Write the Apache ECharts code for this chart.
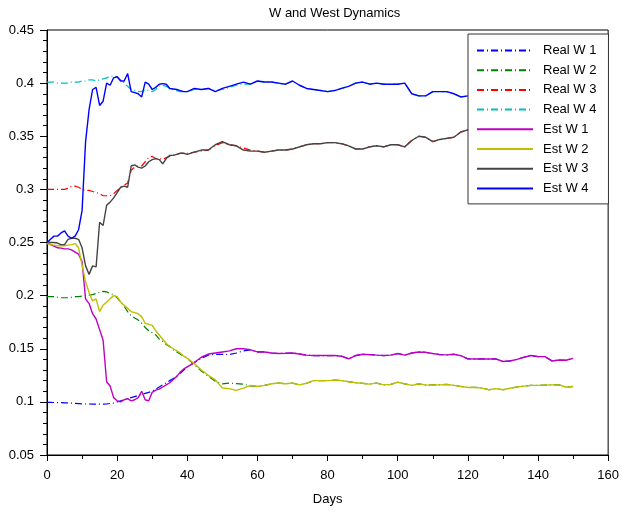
<!DOCTYPE html>
<html>
<head>
<meta charset="utf-8">
<script src="https://cdn.jsdelivr.net/npm/echarts@6/dist/echarts.min.js"></script>
<style>
html,body{margin:0;padding:0;background:#fff;}
#chart{width:622px;height:511px;}
</style>
</head>
<body>
<div id="chart"></div>
<script>
const days = [0,1,2,3,4,5,6,7,8,9,10,11,12,13,14,15,16,17,18,19,20,21,22,23,24,25,26,27,28,29,30,31,32,33,34,35,36,37,38,39,40,
42,44,46,48,50,52,54,56,58,60,62,64,66,68,70,72,74,76,78,80,82,84,86,88,90,92,94,96,98,100,102,104,106,108,110,112,114,116,118,120,122,124,126,128,130,132,134,136,138,140,142,144,146,148,150];

const xTicks = [0,20,40,60,80,100,120,140,160];
const yTicks = [0.05,0.1,0.15,0.2,0.25,0.3,0.35,0.4,0.45];

const realW1 = [0.0995,0.0995,0.0994,0.0993,0.0993,0.099,0.099,0.0988,0.0986,0.0984,
0.0982,0.098,0.098,0.0978,0.0978,0.0978,0.0978,0.098,0.0985,0.099,
0.100,0.101,0.102,0.103,0.104,0.105,0.106,0.107,0.108,0.109,
0.110,0.112,0.114,0.116,0.118,0.120,0.122,0.124,0.127,0.130,
0.133,
0.137,0.141,0.144,0.1448,0.1448, 0.1445,0.146,0.148,0.149,0.147,
0.147,0.146,0.1455,0.1457,0.146, 0.145,0.144,0.1436,0.1436,0.1436,
0.1436,0.143,0.1405,0.1436,0.1448, 0.1445,0.144,0.1436,0.144,0.1455,
0.144,0.146,0.147,0.1466,0.1455, 0.1445,0.1442,0.1448,0.1435,0.1405,
0.1404,0.1404,0.1404,0.1404,0.138, 0.1385,0.140,0.142,0.1436,0.1426,
0.1426,0.1385,0.1394,0.1392,0.141];

const realW2 = [0.199,0.199,0.199,0.1985,0.198,0.198,0.198,0.1985,0.199,0.199,
0.1995,0.200,0.2005,0.201,0.202,0.203,0.204,0.2035,0.202,0.201,
0.198,0.194,0.190,0.185,0.181,0.179,0.177,0.174,0.170,0.167,
0.165,0.163,0.159,0.157,0.154,0.152,0.149,0.147,0.145,0.143,
0.141,
0.135,0.129,0.124,0.1195,0.117, 0.1177,0.1172,0.1167,0.115,0.1145,
0.1155,0.117,0.1177,0.117,0.1177, 0.116,0.1175,0.120,0.120,0.120,
0.1205,0.120,0.119,0.118,0.1175, 0.1167,0.1177,0.116,0.1165,0.1185,
0.117,0.1155,0.117,0.1158,0.116, 0.116,0.1165,0.1155,0.1145,0.1136,
0.1136,0.113,0.1114,0.1125,0.1114, 0.1128,0.114,0.1148,0.1155,0.1155,
0.1158,0.116,0.116,0.1138,0.1145];

const realW3 = [0.300,0.300,0.300,0.300,0.300,0.300,0.301,0.303,0.303,0.302,
0.300,0.299,0.299,0.298,0.297,0.296,0.294,0.294,0.294,0.296,
0.299,0.302,0.304,0.306,0.318,0.321,0.322,0.322,0.326,0.330,
0.331,0.329,0.329,0.328,0.330,0.331,0.332,0.333,0.334,0.334,
0.334,
0.335,0.336,0.337,0.341,0.344, 0.342,0.341,0.339,0.337,0.336,
0.335,0.336,0.337,0.337,0.338, 0.340,0.342,0.343,0.343,0.344,
0.344,0.343,0.341,0.338,0.338, 0.340,0.341,0.340,0.342,0.342,
0.340,0.346,0.350,0.349,0.345, 0.347,0.348,0.349,0.354,0.356,
0.356,0.357,0.358,0.358,0.359, 0.360,0.359,0.360,0.361,0.361,
0.362,0.362,0.363,0.363,0.364];

const realW4 = [0.401,0.401,0.401,0.400,0.400,0.400,0.400,0.401,0.401,0.401,
0.402,0.402,0.403,0.403,0.402,0.403,0.404,0.405,0.406,0.407,
0.406,0.403,0.400,0.397,0.394,0.393,0.392,0.392,0.394,0.393,
0.392,0.394,0.397,0.398,0.397,0.395,0.394,0.393,0.392,0.392,
0.392,
0.394,0.394,0.395,0.393,0.394, 0.396,0.398,0.399,0.399,0.402,
0.401,0.401,0.400,0.399,0.402, 0.398,0.395,0.394,0.393,0.392,
0.393,0.395,0.397,0.400,0.401, 0.399,0.400,0.399,0.399,0.399,
0.400,0.390,0.388,0.388,0.392, 0.392,0.392,0.390,0.387,0.388,
0.389,0.390,0.391,0.390,0.389, 0.391,0.392,0.390,0.391,0.392,
0.390,0.391,0.392,0.391,0.390];

const estW1 = [0.250,0.248,0.2465,0.245,0.2447,0.244,0.244,0.243,0.241,0.239,
0.232,0.197,0.1925,0.183,0.178,0.168,0.158,0.119,0.115,0.104,
0.101,0.100,0.102,0.103,0.101,0.102,0.104,0.110,0.102,0.101,
0.109,0.111,0.112,0.114,0.116,0.118,0.121,0.124,0.128,0.131,
0.133,
0.137,0.142,0.145,0.146,0.147, 0.148,0.150,0.150,0.149,0.147,
0.147,0.146,0.1455,0.1457,0.146, 0.145,0.144,0.1436,0.1436,0.1436,
0.1436,0.143,0.1405,0.1436,0.1448, 0.1445,0.144,0.1436,0.144,0.1455,
0.144,0.146,0.147,0.1466,0.1455, 0.1445,0.1442,0.1448,0.1435,0.1405,
0.1404,0.1404,0.1404,0.1404,0.138, 0.1385,0.140,0.142,0.1436,0.1426,
0.1426,0.1385,0.1394,0.1392,0.141];

const estW2 = [0.249,0.248,0.2475,0.247,0.247,0.247,0.2475,0.248,0.249,0.245,
0.229,0.213,0.203,0.195,0.197,0.185,0.191,0.194,0.197,0.200,
0.199,0.194,0.191,0.188,0.185,0.184,0.183,0.180,0.174,0.173,
0.172,0.167,0.163,0.159,0.155,0.152,0.150,0.148,0.146,0.143,
0.141,
0.136,0.130,0.125,0.1207,0.113, 0.1125,0.1108,0.113,0.1155,0.1145,
0.1155,0.117,0.1177,0.117,0.1177, 0.116,0.1175,0.120,0.120,0.120,
0.1205,0.120,0.119,0.118,0.1175, 0.1167,0.1177,0.116,0.1165,0.1185,
0.117,0.1155,0.117,0.1158,0.116, 0.116,0.1165,0.1155,0.1145,0.1136,
0.1136,0.113,0.1114,0.1125,0.1114, 0.1128,0.114,0.1148,0.1155,0.1155,
0.1158,0.116,0.116,0.1138,0.1145];

const estW3 = [0.251,0.250,0.250,0.2495,0.248,0.248,0.253,0.254,0.254,0.253,
0.245,0.228,0.220,0.228,0.227,0.269,0.266,0.285,0.288,0.292,
0.297,0.302,0.303,0.302,0.322,0.323,0.321,0.320,0.322,0.326,
0.328,0.329,0.328,0.324,0.329,0.332,0.332,0.333,0.334,0.334,
0.333,
0.335,0.337,0.337,0.342,0.345, 0.342,0.341,0.337,0.336,0.336,
0.335,0.336,0.337,0.337,0.338, 0.340,0.342,0.343,0.343,0.344,
0.344,0.343,0.341,0.338,0.338, 0.340,0.341,0.340,0.342,0.342,
0.340,0.346,0.350,0.349,0.345, 0.347,0.348,0.349,0.354,0.356,
0.356,0.357,0.358,0.358,0.359, 0.360,0.359,0.360,0.361,0.361,
0.362,0.362,0.363,0.363,0.364];

const estW4 = [0.250,0.253,0.256,0.256,0.259,0.261,0.256,0.254,0.256,0.262,
0.280,0.345,0.375,0.394,0.396,0.379,0.383,0.400,0.398,0.405,
0.406,0.402,0.402,0.409,0.392,0.391,0.390,0.387,0.401,0.399,
0.394,0.396,0.399,0.3995,0.399,0.395,0.3945,0.394,0.393,0.392,
0.392,
0.395,0.394,0.395,0.392,0.395, 0.397,0.399,0.401,0.399,0.402,
0.401,0.401,0.400,0.399,0.402, 0.398,0.395,0.394,0.393,0.392,
0.393,0.395,0.397,0.400,0.401, 0.399,0.400,0.399,0.399,0.399,
0.400,0.390,0.388,0.388,0.392, 0.392,0.392,0.390,0.387,0.388,
0.389,0.390,0.391,0.390,0.389, 0.391,0.392,0.390,0.391,0.392,
0.390,0.391,0.392,0.391,0.390];

const seriesNames = ['Real W 1','Real W 2','Real W 3','Real W 4','Est W 1','Est W 2','Est W 3','Est W 4'];
const seriesValues = [realW1, realW2, realW3, realW4, estW1, estW2, estW3, estW4];
const seriesColors = ['#0000ff','#008000','#ff0000','#00bfbf','#c000c0','#bfbf00','#444444','#0000ff'];
const dashDot = [7,3,1,3];

const chart = echarts.init(document.getElementById('chart'), null, {renderer:'canvas'});
const FONT = 'Liberation Sans, Arial, sans-serif';

const series = seriesNames.map((name, i) => ({
  name: name,
  type: 'line',
  data: days.map((d, k) => [d, seriesValues[i][k]]),
  showSymbol: false,
  symbol: 'none',
  z: i < 4 ? 2 : 3,
  lineStyle: {
    color: seriesColors[i],
    width: i < 4 ? 1.2 : 1.4,
    type: i < 4 ? dashDot : 'solid'
  },
  itemStyle: { color: seriesColors[i] },
  emphasis: { disabled: true }
}));

chart.setOption({
  animation: false,
  backgroundColor: '#ffffff',
  title: {
    text: 'W and West Dynamics',
    left: 264,
    top: 2,
    textStyle: { fontFamily: FONT, fontSize: 13, fontWeight: 'normal', color: '#000' }
  },
  grid: {
    left: 47, right: 9, top: 30, bottom: 54,
    show: true, borderColor: '#000', borderWidth: 1, backgroundColor: 'transparent'
  },
  legend: {
    orient: 'vertical',
    left: 468, top: 34,
    padding: [10, 12, 9, 8],
    itemWidth: 56, itemHeight: 14, itemGap: 6.7,
    backgroundColor: '#ffffff',
    borderColor: '#333',
    borderWidth: 1,
    data: seriesNames,
    itemStyle: { opacity: 0 },
    textStyle: { fontFamily: FONT, fontSize: 13, color: '#000', padding: [0,0,0,5] },
    selectedMode: false
  },
  xAxis: {
    type: 'value',
    min: xTicks[0], max: xTicks[xTicks.length-1], interval: 20,
    name: 'Days', nameLocation: 'middle', nameGap: 38,
    nameTextStyle: { fontFamily: FONT, fontSize: 13, color: '#000' },
    axisLine: { show: true, lineStyle: { color: '#000', width: 1 } },
    axisTick: { show: true, inside: false, length: 6, lineStyle: { color: '#000' } },
    minorTick: { show: true, splitNumber: 2, length: 4, lineStyle: { color: '#000' } },
    splitLine: { show: false },
    axisLabel: { fontFamily: FONT, fontSize: 13, color: '#000', margin: 14 }
  },
  yAxis: {
    type: 'value',
    min: yTicks[0], max: yTicks[yTicks.length-1], interval: 0.05,
    axisLine: { show: true, lineStyle: { color: '#000', width: 1 } },
    axisTick: { show: true, inside: false, length: 7, lineStyle: { color: '#000' } },
    minorTick: { show: true, splitNumber: 5, length: 4, lineStyle: { color: '#000' } },
    splitLine: { show: false },
    axisLabel: { fontFamily: FONT, fontSize: 13, color: '#000', margin: 13 }
  },
  series: series
});
</script>
</body>
</html>
